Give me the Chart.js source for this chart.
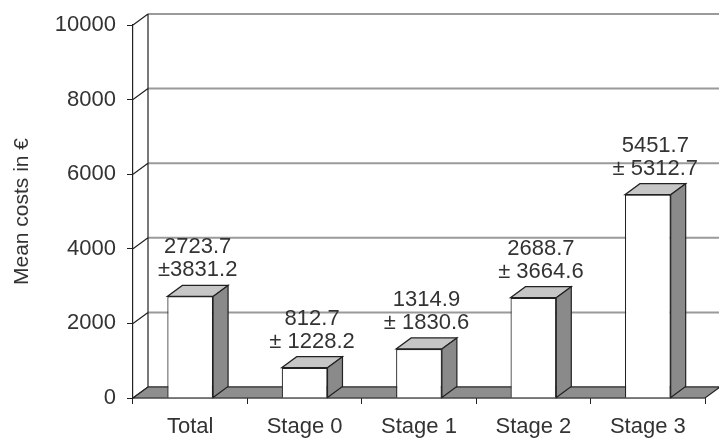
<!DOCTYPE html>
<html>
<head>
<meta charset="utf-8">
<script src="https://cdn.jsdelivr.net/npm/chart.js@4"></script>
<style>
  html, body { margin: 0; padding: 0; background: #fff; }
  #wrap { width: 719px; height: 439px; }
</style>
</head>
<body>
<div id="wrap"><canvas id="costChart"></canvas></div>
<script>
// data
const categories = ['Total', 'Stage 0', 'Stage 1', 'Stage 2', 'Stage 3'];
const meanCosts = [2723.7, 812.7, 1314.9, 2688.7, 5451.7];
const sdCosts = [3831.2, 1228.2, 1830.6, 3664.6, 5312.7];
const yTicks = [0, 2000, 4000, 6000, 8000, 10000];

// fake 3d depth (px)
const DX = 15;
const DY = -11;
const FONT = "'Liberation Sans', Arial, sans-serif";

const fakeDepth = {
    id: 'fakeDepth',
    beforeDatasetsDraw(chart) {
        const { ctx, chartArea: a, scales } = chart;
        const y = scales.y;
        ctx.save();
        // back wall gridlines
        ctx.strokeStyle = '#9a9a9a';
        ctx.lineWidth = 2;
        yTicks.forEach(v => {
            const py = y.getPixelForValue(v) + DY;
            ctx.beginPath();
            ctx.moveTo(a.left + DX, py);
            ctx.lineTo(chart.width, py);
            ctx.stroke();
        });
        // side wall edge + slanted connectors
        ctx.strokeStyle = '#222';
        ctx.lineWidth = 1.2;
        ctx.beginPath();
        ctx.moveTo(a.left + DX, a.top + DY);
        ctx.lineTo(a.left + DX, a.bottom + DY);
        yTicks.forEach(v => {
            const py = y.getPixelForValue(v);
            ctx.moveTo(a.left, py);
            ctx.lineTo(a.left + DX, py + DY);
        });
        ctx.stroke();
        // floor
        ctx.beginPath();
        ctx.moveTo(a.left, a.bottom);
        ctx.lineTo(a.right, a.bottom);
        ctx.lineTo(a.right + DX, a.bottom + DY);
        ctx.lineTo(a.left + DX, a.bottom + DY);
        ctx.closePath();
        ctx.fillStyle = '#8e8e8e';
        ctx.fill();
        ctx.stroke();
        ctx.restore();
    },
    afterDatasetsDraw(chart) {
        const { ctx } = chart;
        const meta = chart.getDatasetMeta(0);
        ctx.save();
        ctx.strokeStyle = '#222';
        ctx.lineWidth = 1.2;
        meta.data.forEach((bar, i) => {
            const l = bar.x - bar.width / 2;
            const r = bar.x + bar.width / 2;
            const t = bar.y;
            const b = bar.base;
            // top face
            ctx.beginPath();
            ctx.moveTo(l, t);
            ctx.lineTo(r, t);
            ctx.lineTo(r + DX, t + DY);
            ctx.lineTo(l + DX, t + DY);
            ctx.closePath();
            ctx.fillStyle = '#c6c6c6';
            ctx.fill();
            ctx.stroke();
            // side face
            ctx.beginPath();
            ctx.moveTo(r, t);
            ctx.lineTo(r + DX, t + DY);
            ctx.lineTo(r + DX, b + DY);
            ctx.lineTo(r, b);
            ctx.closePath();
            ctx.fillStyle = '#8a8a8a';
            ctx.fill();
            ctx.stroke();

            // value labels
            ctx.fillStyle = '#333';
            ctx.font = '22px ' + FONT;
            ctx.textAlign = 'center';
            ctx.textBaseline = 'middle';
            const cx = bar.x + DX / 2;
            const pm = (i === 0 ? '\u00b1' : '\u00b1 ') + sdCosts[i].toFixed(1);
            ctx.fillText(meanCosts[i].toFixed(1), cx, t + DY - 38);
            ctx.fillText(pm, cx, t + DY - 15);
        });
        ctx.restore();
    }
};

new Chart(document.getElementById('costChart'), {
    type: 'bar',
    data: {
        labels: categories,
        datasets: [{
            data: meanCosts,
            backgroundColor: '#ffffff',
            borderColor: '#222',
            borderWidth: 1.2,
            barPercentage: 0.4,
            categoryPercentage: 1.0
        }]
    },
    options: {
        responsive: true,
        maintainAspectRatio: false,
        animation: false,
        layout: { padding: { top: 25, right: 14, left: 0, bottom: 0 } },
        plugins: {
            legend: { display: false },
            tooltip: { enabled: false }
        },
        scales: {
            x: {
                afterFit(scale) { scale.height = 41; },
                grid: {
                    offset: true,
                    drawOnChartArea: false,
                    drawTicks: true,
                    tickLength: 6,
                    color: '#222'
                },
                border: { display: true, color: '#222', width: 1.2 },
                ticks: {
                    color: '#333',
                    padding: 10,
                    font: { family: FONT, size: 22 }
                }
            },
            y: {
                min: 0,
                max: 10000,
                afterFit(scale) { scale.width = 133; },
                afterBuildTicks(scale) {
                    scale.ticks = yTicks.map(v => ({ value: v }));
                },
                grid: {
                    drawOnChartArea: false,
                    drawTicks: true,
                    tickLength: 6,
                    color: '#222'
                },
                border: { display: true, color: '#222', width: 1.2 },
                ticks: {
                    color: '#333',
                    padding: 11,
                    font: { family: FONT, size: 22 },
                    callback: v => String(v)
                },
                title: {
                    display: true,
                    text: 'Mean costs in \u20ac',
                    color: '#333',
                    padding: { top: 10, bottom: 0 },
                    font: { family: FONT, size: 21 }
                }
            }
        }
    },
    plugins: [fakeDepth]
});
</script>
</body>
</html>
